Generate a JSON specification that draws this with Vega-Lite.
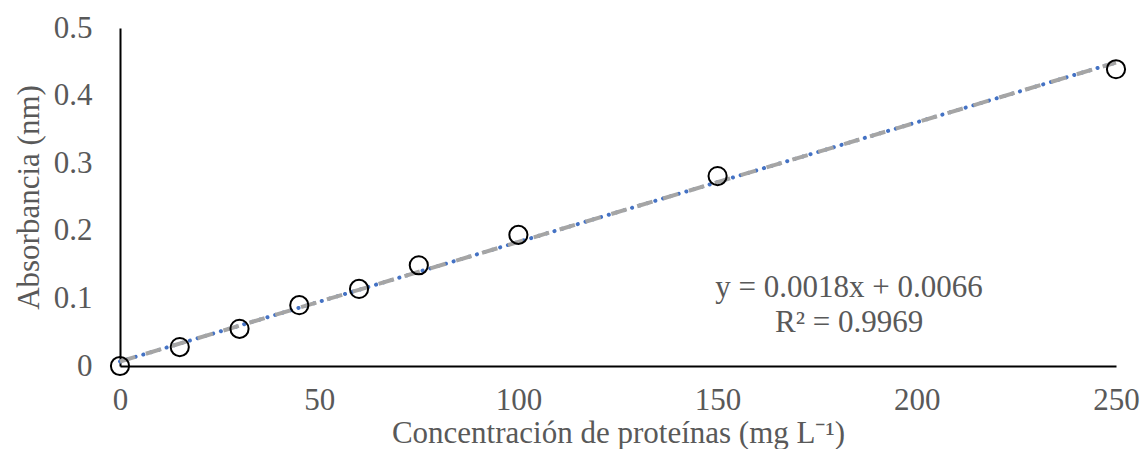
{
  "$schema": "https://vega.github.io/schema/vega-lite/v6.json",
  "width": 996,
  "height": 338,
  "autosize": {"type": "none"},
  "padding": {"left": 120, "top": 28, "right": 27, "bottom": 83},
  "background": "white",
  "config": {
    "view": {"stroke": null},
    "font": "Liberation Serif"
  },
  "datasets": {
    "pts": [
      {"conc": 0, "abs": 0.0},
      {"conc": 15, "abs": 0.028},
      {"conc": 30, "abs": 0.055},
      {"conc": 45, "abs": 0.090},
      {"conc": 60, "abs": 0.114},
      {"conc": 75, "abs": 0.149},
      {"conc": 100, "abs": 0.194},
      {"conc": 150, "abs": 0.281},
      {"conc": 250, "abs": 0.439}
    ],
    "trend": [
      {"conc": 0, "abs": 0.0066},
      {"conc": 250, "abs": 0.449}
    ],
    "eq": [
      {"conc": 183, "abs": 0.115, "label": "y = 0.0018x + 0.0066"},
      {"conc": 183, "abs": 0.064, "label": "R² = 0.9969"}
    ]
  },
  "layer": [
    {
      "data": {"name": "trend"},
      "mark": {"type": "line", "color": "#4472C4", "strokeWidth": 4, "strokeDash": [0.1, 8], "strokeCap": "round"},
      "encoding": {
        "x": {
          "field": "conc", "type": "quantitative",
          "scale": {"domain": [0, 250], "nice": false, "zero": true},
          "axis": {
            "values": [0, 50, 100, 150, 200, 250],
            "title": "Concentración de proteínas (mg L⁻¹)",
            "grid": false, "ticks": false,
            "domainColor": "#000000", "domainWidth": 2,
            "labelColor": "#595959", "labelFontSize": 31, "labelFont": "Liberation Serif",
            "labelPadding": 19, "labelFlush": false,
            "titleColor": "#595959", "titleFontSize": 31, "titleFont": "Liberation Serif", "titleFontWeight": "normal",
            "titlePadding": 3
          }
        },
        "y": {
          "field": "abs", "type": "quantitative",
          "scale": {"domain": [0, 0.5], "nice": false},
          "axis": {
            "values": [0, 0.1, 0.2, 0.3, 0.4, 0.5],
            "format": "~g",
            "title": "Absorbancia (nm)",
            "grid": false, "ticks": false,
            "domainColor": "#000000", "domainWidth": 2,
            "labelColor": "#595959", "labelFontSize": 31, "labelFont": "Liberation Serif",
            "labelPadding": 28, "labelFlush": false,
            "titleColor": "#595959", "titleFontSize": 31, "titleFont": "Liberation Serif", "titleFontWeight": "normal",
            "titlePadding": 8
          }
        }
      }
    },
    {
      "data": {"name": "trend"},
      "mark": {"type": "line", "color": "#A5A5A5", "strokeWidth": 4, "strokeDash": [16, 11], "strokeCap": "butt"},
      "encoding": {
        "x": {"field": "conc", "type": "quantitative"},
        "y": {"field": "abs", "type": "quantitative"}
      }
    },
    {
      "data": {"name": "pts"},
      "mark": {"type": "point", "shape": "circle", "filled": false, "color": "#000000", "strokeWidth": 2, "size": 330, "opacity": 1},
      "encoding": {
        "x": {"field": "conc", "type": "quantitative"},
        "y": {"field": "abs", "type": "quantitative"}
      }
    },
    {
      "data": {"name": "eq"},
      "mark": {"type": "text", "font": "Liberation Serif", "fontSize": 31, "color": "#595959", "align": "center", "baseline": "middle"},
      "encoding": {
        "x": {"field": "conc", "type": "quantitative"},
        "y": {"field": "abs", "type": "quantitative"},
        "text": {"field": "label"}
      }
    }
  ]
}
